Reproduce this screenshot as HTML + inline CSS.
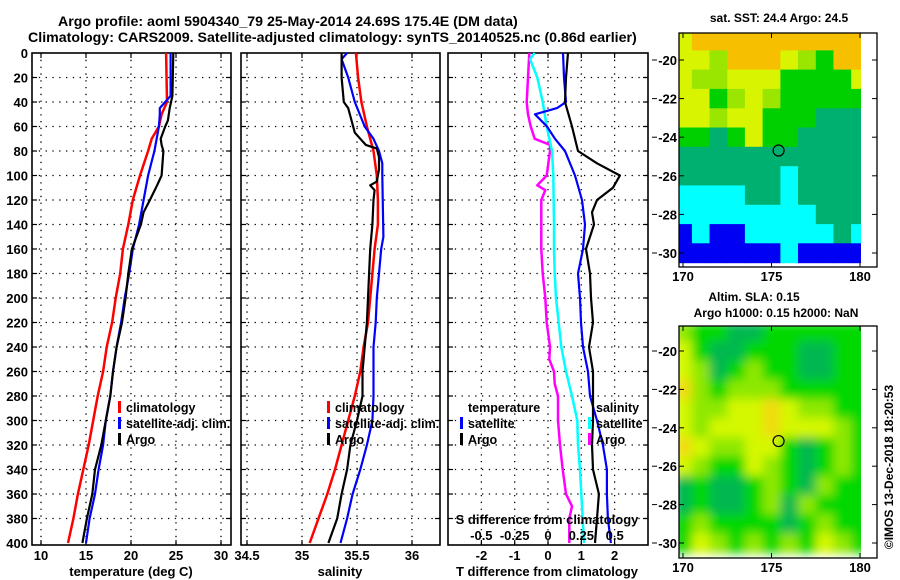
<!DOCTYPE html>
<html><head><meta charset="utf-8"><style>
html,body{margin:0;padding:0;background:#fff;}
svg{display:block;font-family:"Liberation Sans",sans-serif;font-weight:bold;}
</style></head><body>
<svg id="c" width="900" height="580" viewBox="0 0 900 580" xmlns="http://www.w3.org/2000/svg">
<defs><filter id="blur" x="-5%" y="-5%" width="110%" height="110%"><feGaussianBlur stdDeviation="5"/></filter></defs>
<text x="58" y="26" font-size="14.2">Argo profile: aoml 5904340_79 25-May-2014 24.69S 175.4E (DM data)</text>
<text x="28" y="42" font-size="14.2">Climatology: CARS2009. Satellite-adjusted climatology: synTS_20140525.nc (0.86d earlier)</text>
</svg>
<script>
// ---- data ----
const tempClimDepth=[0,40,50,60,70,80,100,120,140,160,180,200,220,240,260,280,300,320,340,360,380,400];
const tempClim=[23.9,24.0,23.4,23.1,22.3,21.9,21.0,20.2,19.7,19.1,18.8,18.3,17.9,17.3,16.9,16.3,15.8,15.3,14.7,14.1,13.6,13.0];
const tempSatDepth=[0,35,45,50,60,80,100,120,140,160,180,200,220,240,260,280,300,320,340,360,380,400];
const tempSat=[24.4,24.4,23.2,23.2,23.1,22.6,21.9,21.4,20.9,20.2,19.8,19.3,18.9,18.4,18.0,17.7,17.2,16.9,16.4,16.0,15.4,15.0];
const tempArgoDepth=[0,35,45,55,60,70,75,80,100,108,120,130,140,160,180,200,220,240,260,280,300,320,340,360,380,400];
const tempArgo=[24.7,24.6,24.3,24.1,23.8,23.3,23.4,23.6,23.4,22.9,22.1,21.4,21.1,20.1,19.7,19.4,19.0,18.4,18.0,17.7,17.2,16.7,16.0,15.7,15.1,14.6];

const salClimDepth=[0,20,40,60,70,80,100,120,140,160,180,200,220,240,260,280,300,320,340,360,380,400];
const salClim=[35.49,35.51,35.54,35.59,35.62,35.65,35.68,35.69,35.69,35.66,35.64,35.62,35.60,35.56,35.53,35.48,35.42,35.36,35.30,35.23,35.15,35.07];
const salSatDepth=[0,5,20,40,60,70,80,90,100,150,160,180,200,220,240,260,280,300,320,340,360,380,400];
const salSat=[35.41,35.36,35.42,35.48,35.57,35.65,35.70,35.73,35.73,35.74,35.72,35.70,35.68,35.67,35.65,35.65,35.65,35.64,35.59,35.53,35.46,35.41,35.35];
const salArgoDepth=[0,20,40,45,55,65,70,75,78,85,95,105,108,112,120,140,160,180,200,220,240,260,280,300,320,340,360,380,400];
const salArgo=[35.36,35.36,35.38,35.42,35.45,35.48,35.53,35.58,35.68,35.70,35.70,35.68,35.62,35.66,35.65,35.64,35.62,35.61,35.60,35.59,35.57,35.55,35.55,35.50,35.44,35.41,35.36,35.32,35.24];

const dtSatDepth=[0,20,40,45,50,60,70,80,100,120,140,160,180,200,220,240,260,280,300,320,340,360,380,400];
const dtSat=[0.45,0.48,0.54,0.27,-0.39,-0.03,0.21,0.51,0.81,1.02,1.11,1.05,0.90,0.96,0.99,1.05,1.20,1.26,1.47,1.65,1.77,1.77,1.80,1.89];
const dtArgoDepth=[0,20,40,60,80,90,100,110,120,130,140,160,180,200,220,240,260,280,300,320,340,360,380,400];
const dtArgo=[0.60,0.54,0.51,0.72,0.90,1.47,2.16,1.95,1.47,1.32,1.38,1.14,1.26,1.29,1.35,1.23,1.35,1.35,1.35,1.32,1.35,1.53,1.47,1.41];
const dsArgoDepth=[0,20,40,50,60,70,75,80,100,108,112,120,140,160,180,200,220,240,250,260,270,280,300,320,340,360,370,380,400];
const dsArgo=[-0.14,-0.15,-0.16,-0.15,-0.13,-0.10,0.015,0.015,-0.01,-0.08,-0.02,-0.05,-0.05,-0.05,-0.04,-0.02,-0.01,0.015,0.01,0.045,0.05,0.075,0.075,0.09,0.11,0.135,0.18,0.16,0.16];
const dsSatDepth=[0,5,20,40,60,80,100,140,160,180,200,220,240,260,280,300,320,340,360,380,400];
const dsSat=[-0.10,-0.135,-0.08,-0.04,-0.01,0.03,0.04,0.045,0.045,0.05,0.06,0.08,0.10,0.135,0.18,0.22,0.225,0.24,0.25,0.26,0.27];

const depthTicks=[0,20,40,60,80,100,120,140,160,180,200,220,240,260,280,300,320,340,360,380,400];
const tempTicks=[10,15,20,25,30];
const salTicks=[34.5,35,35.5,36];
const salTickLabels=["34.5","35","35.5","36"];
const dtTicks=[-2,-1,0,1,2];
const dsTicks=[-0.5,-0.25,0,0.25,0.5];
const dsTickLabels=["-0.5","-0.25","0","0.25","0.5"];

const lonTicks=[170,175,180];
const latTicks=[-20,-22,-24,-26,-28,-30];
const mapLats=[-19,-20,-21,-22,-23,-24,-25,-26,-27,-28,-29,-30];
const mapLons=[170,171,172,173,174,175,176,177,178,179,180];
const sstGrid=["YOOOOOOOOOO","YYLOOOYLGOO","YLLYYYGGGGY","YYGLYLGGGGG","YYLYYGGGTTT","GGTGYGGTTTT","TTTTTTTTTTT","TTTTTTCTTTT","CCCCTTCTTTT","CCCCCCCCTTT","BCBBCCCCCTC","BBBBBBCBBBB"];
const slaGrid=["LGGDDGGGGGG","YGDDGGGDDGG","YLDGLGGDDGG","OLGLLLGGGGG","YLLYYOYLLGG","YLYYYOYYYLG","OYLLYYGDGLG","YLGGYLGDGLG","DGDDGLGDLGG","DGDDGLDLGGG","GLGGGGDGLGG","GYLGLGLGYLG"];
const argoLon=175.4, argoLat=-24.69;

// ---- drawing ----
const svg=document.getElementById('c');
const NS="http://www.w3.org/2000/svg";
function el(tag,attrs,parent){const e=document.createElementNS(NS,tag);for(const k in attrs)e.setAttribute(k,attrs[k]);(parent||svg).appendChild(e);return e;}
function txt(x,y,s,size,anchor,parent){const t=el('text',{x:x,y:y,'font-size':size,'text-anchor':anchor||'start'},parent);t.textContent=s;return t;}

const Y0=53,Y1=545;
const yD=d=>Y0+d*1.225;

function panel(name,x0,x1,xs,ticks){
  const g=el('g',{});
  
  
  depthTicks.forEach(d=>{if(d>0&&d<400){const l=el('line',{x1:x0,x2:x1,y1:yD(d),y2:yD(d),stroke:'#000','stroke-width':1.3,'stroke-dasharray':'1.3 5.5'},g);
    el('line',{x1:x0,x2:x0+5,y1:yD(d),y2:yD(d),stroke:'#000','stroke-width':1.2},g);el('line',{x1:x1-5,x2:x1,y1:yD(d),y2:yD(d),stroke:'#000','stroke-width':1.2},g);}});
  ticks.forEach(v=>{const x=xs(v);const l=el('line',{x1:x,x2:x,y1:Y0,y2:Y1,stroke:'#000','stroke-width':1.3,'stroke-dasharray':'1.3 5.5'},g);
    el('line',{x1:x,x2:x,y1:Y0,y2:Y0+5,stroke:'#000','stroke-width':1.2},g);el('line',{x1:x,x2:x,y1:Y1-5,y2:Y1,stroke:'#000','stroke-width':1.2},g);});
  const r=el('rect',{x:x0,y:Y0,width:x1-x0,height:Y1-Y0,fill:'none',stroke:'#000','stroke-width':1.6},g);
  
  return g;
}
function series(g,depths,vals,xs,color,w,name){
  const p=depths.map((d,i)=>xs(vals[i]).toFixed(1)+','+yD(d).toFixed(1)).join(' ');
  const l=el('polyline',{points:p,fill:'none',stroke:color,'stroke-width':w,'stroke-linejoin':'round'},g);
  
  
}
function legend(g,x,y,items){
  items.forEach((it,i)=>{const yy=y+i*16;
    el('rect',{x:x,y:yy-10,width:3,height:12,fill:it[1]},g);
    const t=txt(x+8,yy+1,it[0],12.5,'start',g);});
}

depthTicks.forEach(d=>{const t=txt(28,yD(d)+5,String(d),13,'end');});

// Panel 1
const xT=v=>41+(v-10)*9;
const g1=panel('temperature-panel',32,231,xT,tempTicks);
series(g1,tempClimDepth,tempClim,xT,'#f00',2.5,'temp-climatology-line');
series(g1,tempSatDepth,tempSat,xT,'#00f',2.2,'temp-satellite-line');
series(g1,tempArgoDepth,tempArgo,xT,'#000',2.2,'temp-argo-line');
tempTicks.forEach(v=>{const t=txt(xT(v),560,String(v),13,'middle');});
{const t=txt(131,576,'temperature (deg C)',13,'middle');}
legend(g1,118,411,[['climatology','#f00'],['satellite-adj. clim.','#00f'],['Argo','#000']]);

// Panel 2
const xS=v=>247+(v-34.5)*110;
const g2=panel('salinity-panel',241,440,xS,salTicks);
series(g2,salClimDepth,salClim,xS,'#f00',2.5,'sal-climatology-line');
series(g2,salSatDepth,salSat,xS,'#00f',2.2,'sal-satellite-line');
series(g2,salArgoDepth,salArgo,xS,'#000',2.2,'sal-argo-line');
salTicks.forEach((v,i)=>{const t=txt(xS(v),560,salTickLabels[i],13,'middle');});
{const t=txt(340,576,'salinity',13,'middle');}
legend(g2,327,411,[['climatology','#f00'],['satellite-adj. clim.','#00f'],['Argo','#000']]);

// Panel 3
const xDT=v=>548+v*33.3;
const xDS=v=>548+v*133.3;
const g3=panel('difference-panel',448,648,xDT,dtTicks);
series(g3,dsArgoDepth,dsArgo,xDS,'#f0f',2.5,'sal-diff-argo-line');
series(g3,dsSatDepth,dsSat,xDS,'#0ff',2.5,'sal-diff-satellite-line');
series(g3,dtSatDepth,dtSat,xDT,'#00f',2.2,'temp-diff-satellite-line');
series(g3,dtArgoDepth,dtArgo,xDT,'#000',2.2,'temp-diff-argo-line');
dtTicks.forEach(v=>{const t=txt(xDT(v),560,String(v),13,'middle');});
dsTicks.forEach((v,i)=>{const t=txt(xDS(v),540,dsTickLabels[i],13,'middle');});
{const t=txt(547,524,'S difference from climatology',13,'middle');}
{const t=txt(547,576,'T difference from climatology',13,'middle');}
{const t=txt(468,412,'temperature',12.5,'start',g3);}
legend(g3,460,427,[['satellite','#00f'],['Argo','#000']]);
{const t=txt(596,412,'salinity',12.5,'start',g3);}
legend(g3,588,427,[['satellite','#0ff'],['Argo','#f0f']]);

// Maps
const sstCol={O:'#f6c000',Y:'#d8f400',L:'#9ae600',G:'#00d000',T:'#00b070',C:'#00ffff',B:'#0000f2'};
const slaCol={O:'#f0dc10',Y:'#d4f800',L:'#8ee800',G:'#00d800',D:'#00b850'};
function map(name,top,bot,latTop,grid,cols,titleLines,smooth){
  const lx=v=>683+(v-170)*17.7;
  const ly=v=>latTop+(-20-v)*((bot-latTop)/10);
  const g=el('g',{});
  
  
  const bottom=name==='sst-map'?267:558;
  const cid=name+'-clip';
  const cp=el('clipPath',{id:cid},g);el('rect',{x:679,y:top,width:182,height:bottom-top},cp);
  const outer=el('g',{'clip-path':'url(#'+cid+')'},g);
  const cg=smooth?el('g',{filter:'url(#blur)'},outer):outer;
  const cw=17.7, ch=(bot-latTop)/10;
  grid.forEach((row,r)=>{for(let c=0;c<row.length;c++){
    const cell=el('rect',{x:(lx(mapLons[c])-cw/2).toFixed(1),y:(ly(mapLats[r])-ch/2).toFixed(1),width:cw+0.6,height:ch+0.6,fill:cols[row[c]]},cg);
    
    
  }});
  el('rect',{x:679,y:top,width:198,height:bottom-top,fill:'none',stroke:'#000','stroke-width':1.3},g);
  latTicks.forEach(v=>{const y=ly(v);el('line',{x1:679,x2:684,y1:y,y2:y,stroke:'#000'},g);el('line',{x1:872,x2:877,y1:y,y2:y,stroke:'#000'},g);el('line',{x1:652,x2:657,y1:y,y2:y,stroke:'#000'},g);
    const t=txt(677,y+5,String(v),13,'end',g);});
  lonTicks.forEach(v=>{const x=lx(v);el('line',{x1:x,x2:x,y1:top,y2:top+5,stroke:'#000'},g);el('line',{x1:x,x2:x,y1:bottom-5,y2:bottom,stroke:'#000'},g);
    const t=txt(x,bottom+14,String(v),13,'middle',g);});
  const m=el('circle',{cx:lx(argoLon),cy:ly(argoLat),r:5.5,fill:'none',stroke:'#000','stroke-width':1.2},g);
  
  titleLines.forEach(tl=>{const t=txt(tl[0],tl[1],tl[2],12,'middle',g);});
}
map('sst-map',33,253,60,sstGrid,sstCol,[[779,22,'sat. SST: 24.4 Argo: 24.5']],false);
map('sla-map',326,543,351,slaGrid,slaCol,[[754,301,'Altim. SLA: 0.15'],[776,317,'Argo h1000: 0.15 h2000: NaN']],true);

{const t=txt(0,0,'©IMOS 13-Dec-2018 18:20:53',12,'middle');t.setAttribute('transform','translate(893,467) rotate(-90)');}
</script>
</body></html>
